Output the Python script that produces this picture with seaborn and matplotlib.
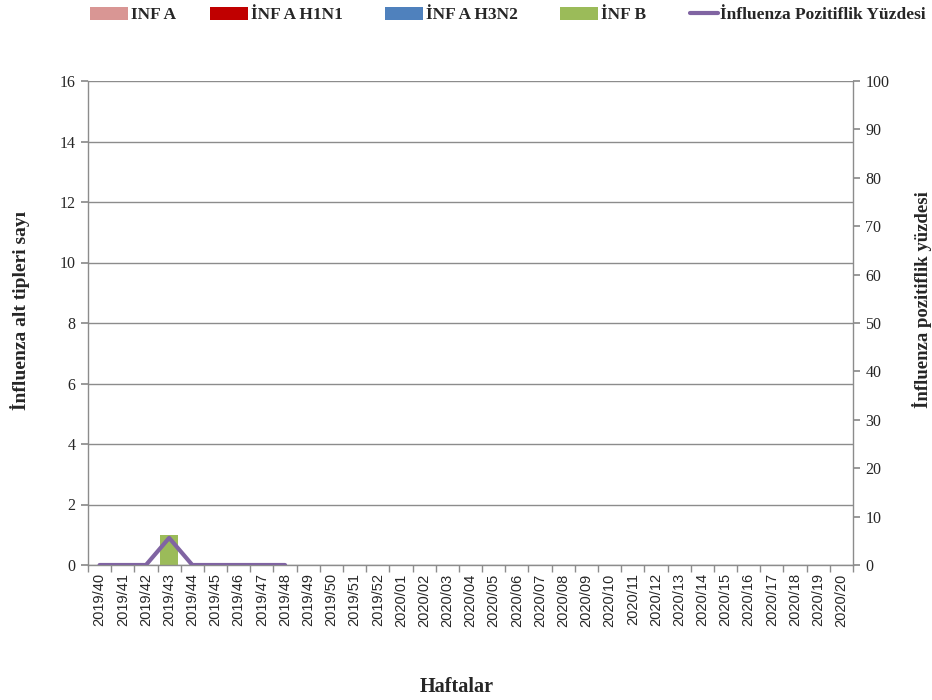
import numpy as np
import pandas as pd
import matplotlib
matplotlib.use("Agg")
import matplotlib.pyplot as plt
from matplotlib.patches import Patch
from matplotlib.lines import Line2D
from matplotlib.ticker import FixedLocator, MultipleLocator
import seaborn as sns

# Surveillance weeks 2019/40 - 2020/20
weeks = [f"2019/{w}" for w in range(40, 53)] + [f"2020/{w:02d}" for w in range(1, 21)]

# Subtype counts per week
inf_a = [0] * 33
inf_a_h1n1 = [0] * 33
inf_a_h3n2 = [0] * 33
inf_b = [0, 0, 0, 1, 0, 0, 0, 0, 0] + [0] * 24

# Influenza positivity (%) reported for weeks 2019/40 - 2019/48
positivity = [0, 0, 0, 5.6, 0, 0, 0, 0, 0]

series_names = ["INF A", "İNF A H1N1", "İNF A H3N2", "İNF B"]
series_vals = [inf_a, inf_a_h1n1, inf_a_h3n2, inf_b]
series_colors = ["#D99694", "#C00000", "#4F81BD", "#9BBB59"]
line_color = "#8064A2"
line_label = "İnfluenza Pozitiflik Yüzdesi"

sns.set_theme(style="white")
serif = ["Liberation Serif", "DejaVu Serif"]
plt.rcParams["font.family"] = serif

W, H = 932, 700
fig = plt.figure(figsize=(W / 100, H / 100), dpi=100)
ax = fig.add_axes([88 / W, 1 - 565 / H, (853 - 88) / W, (565 - 81) / H])

# Stacked bars: draw cumulative totals from the top series down
cum = np.cumsum(np.array(series_vals), axis=0)
for i in range(len(series_names) - 1, -1, -1):
    df = pd.DataFrame({"week": weeks, "value": cum[i]})
    sns.barplot(data=df, x="week", y="value", order=weeks, color=series_colors[i],
                saturation=1, width=0.78, ax=ax, zorder=2, linewidth=0)

ax.set_ylim(0, 16)
ax.set_xlim(-0.5, len(weeks) - 0.5)
ax.yaxis.set_major_locator(MultipleLocator(2))
ax.grid(axis="y", color="#8C8C8C", linewidth=1.0, zorder=0)
ax.grid(axis="x", visible=False)
for s in ["left", "bottom", "right"]:
    ax.spines[s].set_color("#8C8C8C")
    ax.spines[s].set_linewidth(1.0)
ax.spines["top"].set_visible(False)

ax.set_xticks(range(len(weeks)))
ax.set_xticklabels(weeks, rotation=90, fontsize=10.5, family=["Liberation Sans", "DejaVu Sans"])
ax.tick_params(axis="x", which="major", length=0, pad=6)
ax.xaxis.set_minor_locator(FixedLocator(np.arange(-0.5, len(weeks), 1.0)))
ax.tick_params(axis="x", which="minor", length=5, color="#8C8C8C", bottom=True)
ax.tick_params(axis="y", which="major", length=5, color="#8C8C8C", left=True, labelsize=11.5, pad=4)
ax.set_xlabel("")
ax.set_ylabel("")

# Positivity line on the secondary axis
ax2 = ax.twinx()
ldf = pd.DataFrame({"x": np.arange(len(positivity)), "pct": positivity})
sns.lineplot(data=ldf, x="x", y="pct", color=line_color, linewidth=3, ax=ax2, zorder=3)
ax2.set_ylim(0, 100)
ax2.set_xlim(-0.5, len(weeks) - 0.5)
ax2.yaxis.set_major_locator(MultipleLocator(10))
ax2.tick_params(axis="y", length=5, color="#8C8C8C", right=True, labelsize=11.5, pad=4)
ax2.grid(False)
for s in ["left", "bottom", "right", "top"]:
    ax2.spines[s].set_visible(False)
ax2.set_xlabel("")
ax2.set_ylabel("")

fig.text(20 / W, 1 - 310 / H, "İnfluenza alt tipleri sayı", rotation=90,
         ha="center", va="center", fontsize=14, fontweight="bold")
fig.text(922 / W, 1 - 300 / H, "İnfluenza pozitiflik yüzdesi", rotation=90,
         ha="center", va="center", fontsize=13.5, fontweight="bold")
fig.text(457 / W, 1 - 687 / H, "Haftalar", ha="center", va="center",
         fontsize=14.5, fontweight="bold")

# Legend entries placed individually along the top
handles = [Patch(facecolor=c, edgecolor="none") for c in series_colors]
handles.append(Line2D([0], [0], color=line_color, linewidth=3))
labels = series_names + [line_label]
lefts = [90, 210, 385, 560, 690]
hlens = [2.2, 2.2, 2.2, 2.2, 1.6]
for h, lab, x0, hl in zip(handles, labels, lefts, hlens):
    fig.legend([h], [lab], loc="center left", bbox_to_anchor=(x0 / W, 1 - 15 / H),
               frameon=False, prop={"family": serif, "weight": "bold", "size": 12.5},
               handlelength=hl, handleheight=0.75, handletextpad=0.15,
               borderaxespad=0, borderpad=0)

fig.savefig("out.png", dpi=100)
